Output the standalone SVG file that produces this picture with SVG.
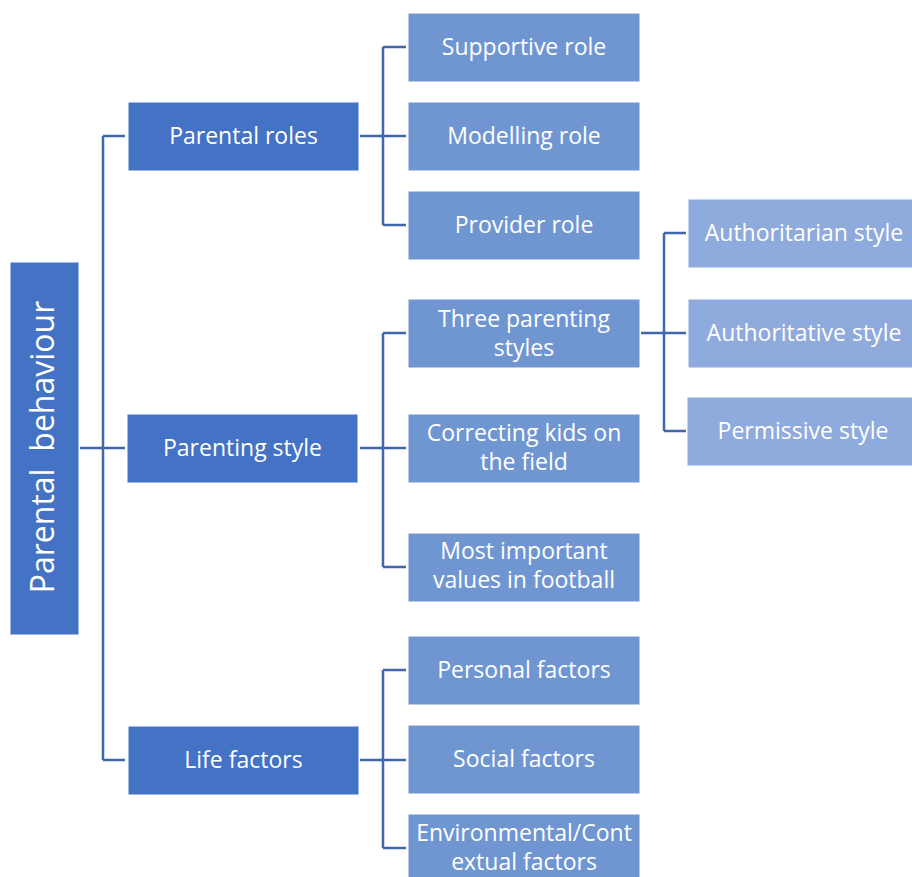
<svg xmlns="http://www.w3.org/2000/svg" width="912" height="877" viewBox="0 0 912 877">
<style>
.l1{fill:#4472C4}
.l2{fill:#7096D2}
.l3{fill:#8FAADC}
.bx{stroke:#ffffff;stroke-width:1}
text{font-family:"Open Sans","Liberation Sans",sans-serif;font-size:23px;fill:#ffffff;text-anchor:middle}
.cn{fill:none;stroke:#4066AE;stroke-width:2.5}
</style>
<rect width="912" height="877" fill="#ffffff"/>
<g id="connectors">
<path class="cn" d="M80 448H125M103 136V760M103 136H125M103 760H125"/>
<path class="cn" d="M360 136H406M383 47V225M383 47H406M383 225H406"/>
<path class="cn" d="M360 448H406M383 333V567M383 333H406M383 567H406"/>
<path class="cn" d="M360 760H406M383 670V848M383 670H406M383 848H406"/>
<path class="cn" d="M641 333H686M664 233V431M664 233H686M664 431H686"/>
</g>
<g id="root"><rect class="l1 bx" x="10" y="262" width="69" height="373"/><text transform="translate(54 447) rotate(-90)" style="font-size:32px;white-space:pre" xml:space="preserve">Parental  behaviour</text></g>
<g id="parental-roles"><rect class="l1 bx" x="128" y="102" width="231" height="69"/><text x="243.5" y="144">Parental roles</text></g>
<g id="parenting-style"><rect class="l1 bx" x="127" y="414" width="231" height="69"/><text x="242.5" y="456">Parenting style</text></g>
<g id="life-factors"><rect class="l1 bx" x="128" y="726" width="231" height="69"/><text x="243.5" y="768">Life factors</text></g>
<g id="supportive"><rect class="l2 bx" x="408" y="13" width="232" height="69"/><text x="524" y="55">Supportive role</text></g>
<g id="modelling"><rect class="l2 bx" x="408" y="102" width="232" height="69"/><text x="524" y="144">Modelling role</text></g>
<g id="provider"><rect class="l2 bx" x="408" y="191" width="232" height="69"/><text x="524" y="233">Provider role</text></g>
<g id="three-styles"><rect class="l2 bx" x="408" y="299" width="232" height="69"/><text x="524" y="327">Three parenting</text><text x="524" y="356">styles</text></g>
<g id="correcting"><rect class="l2 bx" x="408" y="414" width="232" height="69"/><text x="524" y="441">Correcting kids on</text><text x="524" y="470">the field</text></g>
<g id="values"><rect class="l2 bx" x="408" y="533" width="232" height="69"/><text x="524" y="559">Most important</text><text x="524" y="588">values in football</text></g>
<g id="personal"><rect class="l2 bx" x="408" y="636" width="232" height="69"/><text x="524" y="678">Personal factors</text></g>
<g id="social"><rect class="l2 bx" x="408" y="725" width="232" height="69"/><text x="524" y="767">Social factors</text></g>
<g id="environmental"><rect class="l2 bx" x="408" y="814" width="232" height="69"/><text x="524" y="841">Environmental/Cont</text><text x="524" y="870">extual factors</text></g>
<g id="authoritarian"><rect class="l3 bx" x="688" y="199" width="226" height="69"/><text x="804" y="241">Authoritarian style</text></g>
<g id="authoritative"><rect class="l3 bx" x="688" y="299" width="226" height="69"/><text x="804" y="341">Authoritative style</text></g>
<g id="permissive"><rect class="l3 bx" x="687" y="397" width="226" height="69"/><text x="803" y="439">Permissive style</text></g>
</svg>
